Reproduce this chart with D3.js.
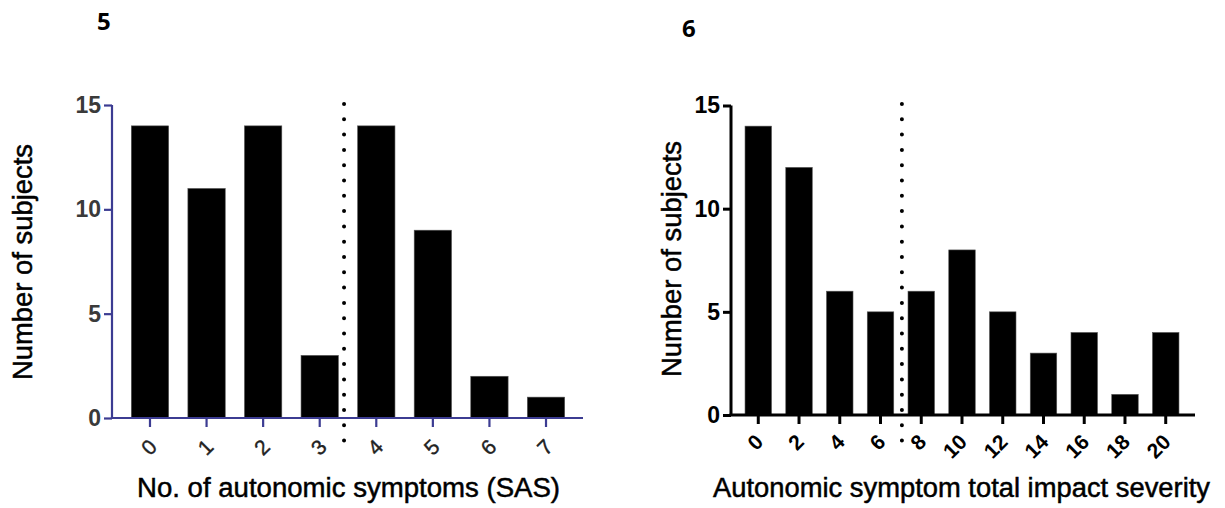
<!DOCTYPE html>
<html>
<head>
<meta charset="utf-8">
<script src="https://cdn.jsdelivr.net/npm/d3@7"></script>
<style>
  html, body { margin: 0; padding: 0; background: #fff; }
  svg { display: block; }
  svg text { font-family: "Liberation Sans", Arial, Helvetica, sans-serif; }
</style>
</head>
<body>
<div id="chart"></div>
<script>
const WIDTH = 1225;
const HEIGHT = 508;

// panel 5: number of autonomic symptoms
const sasCategories = ["0", "1", "2", "3", "4", "5", "6", "7"];
const sasCounts = [14, 11, 14, 3, 14, 9, 2, 1];
const sasCutoff = 3.43;

// panel 6: total impact severity
const severityCategories = ["0", "2", "4", "6", "8", "10", "12", "14", "16", "18", "20"];
const severityCounts = [14, 12, 6, 5, 6, 8, 5, 3, 4, 1, 4];
const severityCutoff = 7.05;

const yTicks = [0, 5, 10, 15];

const svg = d3.select("#chart")
    .append("svg")
    .attr("width", WIDTH)
    .attr("height", HEIGHT);

function drawPanel(opts) {
    const g = svg.append("g");

    const x = d3.scaleBand()
        .domain(opts.categories)
        .range(opts.xRange)
        .paddingInner(opts.pad)
        .paddingOuter(opts.pad / 2);

    const y = d3.scaleLinear()
        .domain([0, 15])
        .range(opts.yRange);

    // bars
    g.selectAll("rect.bar")
        .data(opts.categories.map((c, i) => ({ cat: c, value: opts.values[i] })))
        .enter()
        .append("rect")
        .attr("class", "bar")
        .attr("x", d => x(d.cat))
        .attr("y", d => y(d.value))
        .attr("width", x.bandwidth())
        .attr("height", d => y(0) - y(d.value))
        .attr("fill", "#000")
        .attr("stroke", "#555")
        .attr("stroke-width", 0.6);

    // y axis
    const yAxis = g.append("g")
        .attr("transform", `translate(${opts.axisX},0)`)
        .call(d3.axisLeft(y).tickValues(yTicks).tickSize(8).tickPadding(3));
    yAxis.attr("font-family", null).attr("font-size", null);
    yAxis.select(".domain")
        .attr("d", `M0,${y(15)}V${y(0)}`)
        .attr("stroke", opts.axisColor)
        .attr("stroke-width", opts.axisWidth);
    yAxis.selectAll(".tick line")
        .attr("stroke", opts.axisColor)
        .attr("stroke-width", opts.axisWidth);
    yAxis.selectAll(".tick text")
        .attr("fill", opts.yTickColor)
        .style("font-size", "23px")
        .style("font-weight", "bold");

    // x axis
    const xAxis = g.append("g")
        .attr("transform", `translate(0,${y(0)})`)
        .call(d3.axisBottom(x).tickSize(9).tickFormat(""));
    xAxis.select(".domain")
        .attr("d", `M${opts.axisX - opts.axisWidth / 2},0H${opts.xEnd}`)
        .attr("stroke", opts.axisColor)
        .attr("stroke-width", opts.axisWidth);
    xAxis.selectAll(".tick line")
        .attr("stroke", opts.axisColor)
        .attr("stroke-width", opts.axisWidth);

    g.append("g")
        .selectAll("text")
        .data(opts.categories)
        .enter()
        .append("text")
        .attr("transform", d => `translate(${x(d) + x.bandwidth() / 2 + opts.labelDx},${y(0) + opts.labelDy}) rotate(-45)`)
        .attr("text-anchor", "end")
        .attr("dy", "0.35em")
        .attr("fill", opts.xTickColor)
        .attr("stroke", opts.xTickColor)
        .attr("stroke-width", opts.xTickStroke)
        .style("font-size", "21px")
        .style("font-weight", opts.xTickWeight)
        .text(d => d);

    // dotted cutoff line
    const first = x(opts.categories[0]) + x.bandwidth() / 2;
    const step = x.step();
    const cutX = first + (opts.cutoff - opts.cutBase) / opts.cutUnit * step;
    g.append("line")
        .attr("x1", cutX)
        .attr("x2", cutX)
        .attr("y1", 104)
        .attr("y2", 444)
        .attr("stroke", "#000")
        .attr("stroke-width", 4)
        .attr("stroke-linecap", "round")
        .attr("stroke-dasharray", "0 15.3");

    // titles
    g.append("text")
        .attr("x", opts.xTitleX)
        .attr("y", 497)
        .attr("textLength", opts.xTitleLen)
        .attr("lengthAdjust", "spacingAndGlyphs")
        .style("font-size", "27px")
        .attr("fill", "#000")
        .attr("stroke", "#000")
        .attr("stroke-width", 0.5)
        .text(opts.xTitle);

    g.append("text")
        .attr("transform", `translate(${opts.yTitleX},${opts.yTitleY}) rotate(-90)`)
        .attr("textLength", 236)
        .attr("lengthAdjust", "spacingAndGlyphs")
        .style("font-size", "27px")
        .attr("fill", "#000")
        .attr("stroke", "#000")
        .attr("stroke-width", 0.5)
        .text("Number of subjects");

    g.append("text")
        .attr("x", opts.panelX)
        .attr("y", opts.panelY)
        .style("font-size", "24px")
        .style("font-weight", "bold")
        .style("font-family", "'Open Sans', 'Noto Sans', sans-serif")
        .text(opts.panel);
}

drawPanel({
    categories: sasCategories,
    values: sasCounts,
    xRange: [121.7, 574.3],
    pad: 0.34,
    yRange: [418, 105],
    axisX: 112,
    xEnd: 583,
    axisColor: "#3c3c92",
    axisWidth: 2.2,
    yTickColor: "#3a3a3a",
    xTickColor: "#222",
    xTickWeight: "normal",
    xTickStroke: 0.4,
    labelDx: 3,
    labelDy: 25,
    cutoff: sasCutoff,
    cutBase: 0,
    cutUnit: 1,
    xTitle: "No. of autonomic symptoms (SAS)",
    xTitleX: 137,
    xTitleLen: 423,
    yTitleX: 32,
    yTitleY: 380,
    panel: "5",
    panelX: 97,
    panelY: 30
});

drawPanel({
    categories: severityCategories,
    values: severityCounts,
    xRange: [737.9, 1186.1],
    pad: 0.35,
    yRange: [415, 105.5],
    axisX: 731,
    xEnd: 1195,
    axisColor: "#000",
    axisWidth: 3,
    yTickColor: "#000",
    xTickColor: "#000",
    xTickWeight: "bold",
    xTickStroke: 0,
    labelDx: 1,
    labelDy: 23,
    cutoff: severityCutoff,
    cutBase: 0,
    cutUnit: 2,
    xTitle: "Autonomic symptom total impact severity",
    xTitleX: 713,
    xTitleLen: 497,
    yTitleX: 681,
    yTitleY: 377,
    panel: "6",
    panelX: 682,
    panelY: 37
});
</script>
</body>
</html>
